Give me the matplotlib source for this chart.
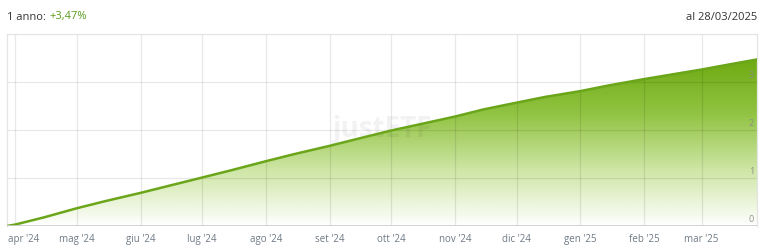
import matplotlib
matplotlib.use("Agg")
import matplotlib.pyplot as plt
import matplotlib.dates as mdates
import matplotlib.transforms as mtransforms
from matplotlib.colors import LinearSegmentedColormap
from matplotlib.patches import Polygon
import numpy as np
import datetime as dt

# Data (cumulative return, %)
dates = ["2024-03-28", "2024-04-01", "2024-04-15", "2024-05-01", "2024-05-15",
         "2024-06-01", "2024-06-15", "2024-07-01", "2024-07-15", "2024-08-01",
         "2024-08-15", "2024-09-01", "2024-09-15", "2024-10-01", "2024-10-15",
         "2024-11-01", "2024-11-15", "2024-12-01", "2024-12-15", "2025-01-01",
         "2025-01-15", "2025-02-01", "2025-02-15", "2025-03-01", "2025-03-15",
         "2025-03-28"]
values = [0.00, 0.03, 0.18, 0.37, 0.52,
          0.69, 0.84, 1.01, 1.16, 1.35,
          1.50, 1.67, 1.82, 1.99, 2.12,
          2.28, 2.43, 2.57, 2.69, 2.81,
          2.93, 3.06, 3.16, 3.26, 3.37,
          3.47]
month_ticks = ["2024-04-01", "2024-05-01", "2024-06-01", "2024-07-01", "2024-08-01",
               "2024-09-01", "2024-10-01", "2024-11-01", "2024-12-01", "2025-01-01",
               "2025-02-01", "2025-03-01"]
month_labels = ["apr '24", "mag '24", "giu '24", "lug '24", "ago '24", "set '24",
                "ott '24", "nov '24", "dic '24", "gen '25", "feb '25", "mar '25"]
y_ticks = [0, 1, 2, 3]
title_left = "1 anno:"
title_perf = "+3,47%"
title_right = "al 28/03/2025"

plt.rcParams['font.family'] = ['Open Sans', 'DejaVu Sans']

W, H = 768, 247
fig = plt.figure(figsize=(W / 100, H / 100), dpi=100)
ax = fig.add_axes([7 / W, 1 - 226 / H, 750 / W, 192 / H])

x = mdates.date2num([dt.date.fromisoformat(d) for d in dates])
y = np.array(values)
xt = mdates.date2num([dt.date.fromisoformat(d) for d in month_ticks])

ax.set_xlim(x[0], x[-1])
ax.set_ylim(0, 4)

# gradient fill
cmap = LinearSegmentedColormap.from_list("g", ["#ffffff", "#cfe6a6", "#92c444", "#6eaa12"])
grad = np.linspace(0, 1, 256).reshape(-1, 1)
im = ax.imshow(grad, extent=[x[0], x[-1], 0, y.max()], origin="lower",
               aspect="auto", cmap=cmap, zorder=1, interpolation="bicubic")
poly = Polygon(np.column_stack([np.r_[x, x[-1], x[0]], np.r_[y, 0, 0]]),
               closed=True, facecolor="none", edgecolor="none")
ax.add_patch(poly)
im.set_clip_path(poly)

ax.plot(x, y, color="#6aa51a", lw=1.8, zorder=3, solid_capstyle="round")

# grid (semi-transparent so it shows faintly through the fill)
for v in xt:
    ax.axvline(v, color="#000000", alpha=0.09, lw=0.9, zorder=2)
for v in y_ticks[1:]:
    ax.axhline(v, color="#000000", alpha=0.09, lw=0.9, zorder=2)
ax.axhline(0, color="#cccccc", lw=1.2, zorder=4)

for s in ax.spines.values():
    s.set_color("#e4e4e4")
    s.set_linewidth(0.9)
ax.spines['bottom'].set_visible(False)

ax.set_xticks(xt)
ax.set_xticklabels(month_labels)
ax.tick_params(axis='x', length=0, pad=6, labelsize=7, labelcolor="#6e7a86")
lbls = ax.get_xticklabels()
lbls[0].set_horizontalalignment("left")
lbls[0].set_transform(lbls[0].get_transform() +
                      mtransforms.ScaledTranslation(-7 / 100, 0, fig.dpi_scale_trans))
ax.set_yticks([])
for v in y_ticks:
    ax.text(x[-1] - 1.5, v + 0.05, str(v), ha="right", va="bottom",
            fontsize=6.5, color="#888888", alpha=0.9, zorder=5)

ax.text(0.5, 0.5, "justETF", transform=ax.transAxes, ha="center", va="center",
        fontsize=20, color="#000000", alpha=0.05, fontweight="bold", zorder=2)

t1 = fig.text(7 / W, 1 - 17 / H, title_left, ha="left", va="center", fontsize=8, color="#333333")
fig.canvas.draw()
bb = t1.get_window_extent()
fig.text((bb.x1 + 3.5) / W, 1 - 17 / H, title_perf, ha="left", va="center", fontsize=8, color="#5a9a1a")
fig.text(757 / W, 1 - 17 / H, title_right, ha="right", va="center", fontsize=8, color="#333333")

fig.savefig("out.png", dpi=100)
